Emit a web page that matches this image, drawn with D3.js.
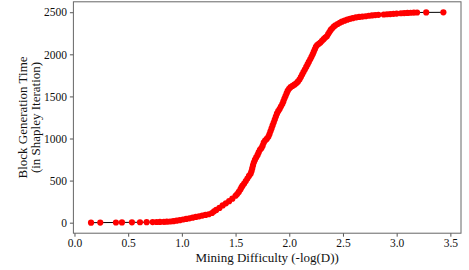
<!DOCTYPE html>
<html>
<head>
<meta charset="utf-8">
<script src="https://cdn.jsdelivr.net/npm/d3@7"></script>
<style>
  body { margin: 0; background: #fff; }
  svg { display: block; font-family: "Liberation Serif", "Times New Roman", serif; }
  .axis text { fill: #111; font-size: 11.5px; font-family: "Liberation Serif", serif; }
  .axis line { stroke: #555; }
  .title { font-size: 13px; fill: #111; }
</style>
</head>
<body>
<div class="chart"></div>
<script>
// === Data ===
const difficulty = [
  0.154, 0.240, 0.386, 0.442, 0.535, 0.610, 0.672, 0.728, 0.765, 0.796, 0.833,
  0.86, 0.89, 0.92, 0.95, 0.98, 1.01, 1.04, 1.07, 1.10, 1.13, 1.16, 1.19, 1.22, 1.25,
  1.28, 1.30, 1.32, 1.35, 1.38, 1.41, 1.44, 1.47,
  1.50, 1.515, 1.53, 1.545, 1.555, 1.565, 1.58, 1.595, 1.61, 1.625, 1.64, 1.648, 1.655,
  1.662, 1.67, 1.68, 1.692, 1.705, 1.715, 1.727, 1.74, 1.752, 1.762, 1.775, 1.79, 1.805,
  1.815, 1.825, 1.835, 1.845, 1.855, 1.865, 1.875, 1.885, 1.897, 1.91, 1.922, 1.935,
  1.945, 1.955, 1.965, 1.975, 1.985, 1.998, 2.012, 2.03, 2.048, 2.065, 2.08, 2.095,
  2.108, 2.12, 2.132, 2.145, 2.158, 2.17, 2.182, 2.195, 2.207, 2.218, 2.228, 2.238,
  2.248, 2.26, 2.275, 2.29, 2.305, 2.32, 2.335, 2.35, 2.362, 2.374, 2.386, 2.40, 2.415,
  2.43, 2.45, 2.47, 2.49, 2.515, 2.54, 2.565, 2.59, 2.62, 2.65, 2.68, 2.71, 2.74, 2.77,
  2.80, 2.83, 2.88, 2.91, 2.94, 2.97, 3.00, 3.04, 3.07, 3.10, 3.13, 3.16, 3.19,
  3.275, 3.435
];
const genTime = [
  0, 1, 2, 3, 4, 5, 6, 7, 8, 9, 10,
  12, 14, 18, 24, 30, 38, 45, 52, 60, 68, 76, 84, 92, 100,
  115, 135, 152, 175, 205, 230, 255, 285,
  320, 340, 365, 395, 420, 440, 465, 495, 525, 555, 580, 610, 645,
  680, 715, 745, 775, 805, 835, 865, 885, 915, 950, 975, 995, 1020,
  1050, 1085, 1120, 1155, 1190, 1225, 1260, 1295, 1325, 1350, 1380, 1410,
  1440, 1475, 1505, 1535, 1565, 1590, 1610, 1625, 1640, 1655, 1675, 1700,
  1730, 1760, 1790, 1820, 1850, 1880, 1910, 1940, 1970, 2000, 2030, 2060,
  2090, 2110, 2125, 2140, 2160, 2180, 2200, 2215, 2240, 2265, 2290, 2310, 2330,
  2345, 2360, 2375, 2388, 2400, 2412, 2422, 2430, 2438, 2444, 2448, 2452, 2458, 2462,
  2466, 2469, 2473, 2476, 2478, 2481, 2484, 2488, 2490, 2492, 2494, 2496, 2497,
  2498, 2499
];
const xTicks = [0, 0.5, 1.0, 1.5, 2.0, 2.5, 3.0, 3.5];
const yTicks = [0, 500, 1000, 1500, 2000, 2500];

const points = difficulty.map((d, i) => ({x: d, y: genTime[i]}));

// === Margin Convention ===
const margin = {top: 1.8, right: 8, bottom: 36.8, left: 73.4};
const width = 469 - margin.left - margin.right,
      height = 270 - margin.top - margin.bottom;

const svg = d3.select(".chart").append("svg")
    .attr("width", 469)
    .attr("height", 270);

const g = svg.append("g")
    .attr("transform", `translate(${margin.left},${margin.top})`);

// === Scales (matplotlib-like 5% margins) ===
const [xMin, xMax] = d3.extent(difficulty);
const [yMin, yMax] = d3.extent(genTime);
const xPad = (xMax - xMin) * 0.05, yPad = (yMax - yMin) * 0.05;

const xScale = d3.scaleLinear()
    .domain([xMin - xPad, xMax + xPad])
    .range([0, width]);

const yScale = d3.scaleLinear()
    .domain([yMin - yPad, yMax + yPad])
    .range([height, 0]);

// === Axes ===
const xAxis = d3.axisBottom(xScale)
    .tickValues(xTicks)
    .tickFormat(d3.format(".1f"))
    .tickSize(3.5)
    .tickPadding(2);

const yAxis = d3.axisLeft(yScale)
    .tickValues(yTicks)
    .tickFormat(d3.format("d"))
    .tickSize(3.5)
    .tickPadding(3);

g.append("g")
    .attr("class", "axis x-axis")
    .attr("transform", `translate(0,${height})`)
    .call(xAxis)
    .call(s => s.select(".domain").remove());

g.append("g")
    .attr("class", "axis y-axis")
    .call(yAxis)
    .call(s => s.select(".domain").remove());

// frame (spines)
g.append("rect")
    .attr("x", 0)
    .attr("y", 0)
    .attr("width", width)
    .attr("height", height)
    .attr("fill", "none")
    .attr("stroke", "#666")
    .attr("stroke-width", 1);

// === Line + markers ===
const line = d3.line()
    .x(d => xScale(d.x))
    .y(d => yScale(d.y));

g.append("path")
    .datum(points)
    .attr("fill", "none")
    .attr("stroke", "#000")
    .attr("stroke-width", 1)
    .attr("d", line);

g.selectAll(".dot")
    .data(points)
    .enter()
    .append("circle")
    .attr("class", "dot")
    .attr("cx", d => xScale(d.x))
    .attr("cy", d => yScale(d.y))
    .attr("r", 3.1)
    .attr("fill", "#ff0000");

// === Titles ===
svg.append("text")
    .attr("class", "title")
    .attr("x", margin.left + width / 2)
    .attr("y", 257.3)
    .attr("dy", "0.35em")
    .attr("text-anchor", "middle")
    .text("Mining Difficulty (-log(D))");

const yTitle = svg.append("text")
    .attr("class", "title")
    .attr("transform", `translate(0,${margin.top + height / 2}) rotate(-90)`)
    .attr("text-anchor", "middle");

yTitle.append("tspan")
    .attr("x", 0)
    .attr("y", 22)
    .attr("dy", "0.35em")
    .text("Block Generation Time");

yTitle.append("tspan")
    .attr("x", 0)
    .attr("y", 35.5)
    .attr("dy", "0.35em")
    .text("(in Shapley Iteration)");
</script>
</body>
</html>
